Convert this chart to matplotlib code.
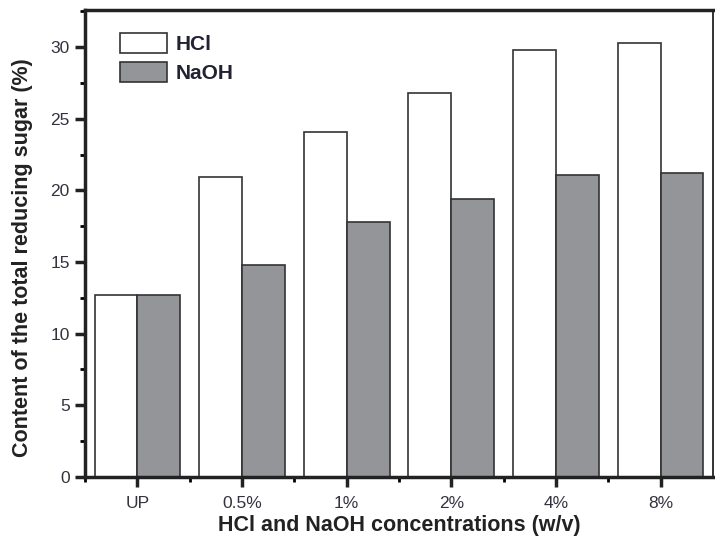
import matplotlib
matplotlib.use('Agg')
import matplotlib.pyplot as plt
import numpy as np
from matplotlib.ticker import MultipleLocator

plt.rcParams['font.family'] = ['Liberation Sans', 'DejaVu Sans']

# data
concentrations = ['UP', '0.5%', '1%', '2%', '4%', '8%']
hcl = [12.7, 20.9, 24.1, 26.8, 29.8, 30.3]
naoh = [12.7, 14.8, 17.8, 19.4, 21.1, 21.2]

x = np.arange(len(concentrations))
w = 0.41

fig = plt.figure(figsize=(7.15, 5.5), dpi=100)
ax = fig.add_axes([0.119, 0.133, 0.878, 0.849])

ax.bar(x, hcl, width=-w, align='edge', color='white', edgecolor='#333333',
       linewidth=1.2, label='HCl')
ax.bar(x, naoh, width=w, align='edge', color='#939598', edgecolor='#333333',
       linewidth=1.2, label='NaOH')

ax.set_xlim(-0.5, 5.5)
ax.set_ylim(0, 32.6)
ax.set_xticks(x)
ax.set_xticklabels(concentrations)
ax.yaxis.set_major_locator(MultipleLocator(5))
ax.yaxis.set_minor_locator(MultipleLocator(2.5))
ax.set_xticks(list(x[:-1] + 0.5) + [-0.5], minor=True)

ax.tick_params(which='major', direction='out', length=7, width=2.5,
               labelsize=12.5, colors='#222222', labelcolor='#333340', pad=4)
ax.tick_params(which='minor', direction='out', length=3.5, width=2)
ax.tick_params(axis='x', which='major', pad=7)

for s in ['left', 'bottom', 'top']:
    ax.spines[s].set_linewidth(2.5)
    ax.spines[s].set_color('#222222')
ax.spines['right'].set_linewidth(1.3)
ax.spines['right'].set_color('#222222')

ax.set_xlabel('HCl and NaOH concentrations (w/v)', fontsize=15.5,
              fontweight='bold', color='#222222', labelpad=3)
ax.set_ylabel('Content of the total reducing sugar (%)', fontsize=15.5,
              fontweight='bold', color='#222222')
ax.yaxis.set_label_coords(-0.083, 0.47)

leg = ax.legend(loc='upper left', bbox_to_anchor=(0.025, 0.99), frameon=False,
                prop={'weight': 'bold', 'size': 15}, handlelength=2.3,
                handleheight=1.05, handletextpad=0.4, labelspacing=0.4)
for t in leg.get_texts():
    t.set_color('#222233')

fig.savefig('out.png', dpi=100)
